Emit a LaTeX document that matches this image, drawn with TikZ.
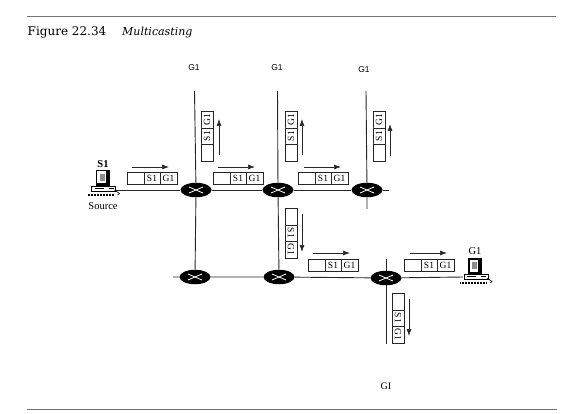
\documentclass[tikz,border=0pt]{standalone}
\usepackage{fontspec}
\setmainfont{Liberation Serif}
\newfontfamily\capfont{DejaVu Serif}
\newfontfamily\gsans{Liberation Sans}
\usetikzlibrary{arrows.meta,shapes.geometric}
\tikzset{
  x=1pt,y=-1pt,
  rule/.style={draw=black!55,line width=0.9pt},
  linkline/.style={draw=black!85,line width=0.9pt},
  router/.style={ellipse,fill=black,minimum width=31pt,minimum height=14.5pt,inner sep=0pt},
  flow/.style={draw=black!85,line width=0.7pt,-{Latex[length=7pt,width=5pt]}},
  cell/.style={font=\fontsize{9.5}{10}\selectfont,inner sep=0pt},
  lab/.style={inner sep=0pt},
  pktbox/.style={draw=black!85,line width=0.6pt,fill=white},
  hpacket/.pic={
    \draw[pktbox] (0,0) rectangle (50,12);
    \draw[pktbox] (17,0) -- (17,12) (33,0) -- (33,12);
    \node[cell] (s) at (25,6) {S1};
    \node[cell] (g) at (41.5,6) {G1};
  },
  uppacket/.pic={
    \draw[pktbox] (0,0) rectangle (12,50);
    \draw[pktbox] (0,17) -- (12,17) (0,33) -- (12,33);
    \node[cell,rotate=90] (g) at (6,8.5) {G1};
    \node[cell,rotate=90] (s) at (6,25) {S1};
  },
  downpacket/.pic={
    \draw[pktbox] (0,0) rectangle (12,50);
    \draw[pktbox] (0,17) -- (12,17) (0,33) -- (12,33);
    \node[cell,rotate=-90] (s) at (6,25) {S1};
    \node[cell,rotate=-90] (g) at (6,41.5) {G1};
  },
  computer/.pic={
    \fill[black] (-7,0) rectangle (7,16);
    \fill[white] (-5.5,1.5) rectangle (3,13.5);
    \fill[black!45] (-3,4) rectangle (2,11);
    \draw[black,line width=0.6pt,fill=white] (-11,16) rectangle (13,21.5);
    \draw[black,line width=1pt] (-8,18.5) -- (1,18.5) (6,18.5) -- (11,18.5);
    \draw[black,line width=2pt,dash pattern=on 1pt off .5pt] (-15,25) -- (12,25);
    \draw[black,line width=.6pt] (12,20) -- (17,23.5) -- (15,25);
  }
}
\begin{document}
\begin{tikzpicture}
\useasboundingbox (0,0) rectangle (575,414);
\coordinate (ruleTL) at (27,16); \coordinate (ruleTR) at (556,16);
\coordinate (ruleBL) at (27,409); \coordinate (ruleBR) at (557,409);
\draw[rule] (ruleTL) -- (ruleTR);
\draw[rule] (ruleBL) -- (ruleBR);
\node[lab,anchor=base west] (figno) at (27.5,36) {\capfont\fontsize{12}{14}\selectfont Figure 22.34};
\node[lab,anchor=base west] (figname) at (122,36) {\capfont\fontsize{11}{13}\selectfont\itshape Multicasting};

% free ends
\coordinate (t1) at (194.5,91); \coordinate (t2) at (277.5,91); \coordinate (t3) at (366,91);
\coordinate (b3) at (367,209); \coordinate (e3) at (389,190);
\coordinate (w4) at (173,277); \coordinate (t6) at (386,259); \coordinate (b6) at (386,344);

\node[router] (r1) at (196,190) {};
\node[router] (r2) at (278,190) {};
\node[router] (r3) at (367,190) {};
\node[router] (r4) at (195,277) {};
\node[router] (r5) at (279,277) {};
\node[router] (r6) at (386,278) {};

\pic (src) at (102.5,170) {computer};
\pic (dst) at (475,258) {computer};
\coordinate (srcport) at (116,190);
\coordinate (dstport) at (463,277);

\draw[linkline] (srcport) -- (r1) -- (r2) -- (r3) -- (e3);
\draw[linkline] (w4) -- (r4) -- (r5) -- (r6) -- (dstport);
\draw[linkline] (t1) -- (r1) -- (r4);
\draw[linkline] (t2) -- (r2) -- (r5);
\draw[linkline] (t3) -- (r3) -- (b3);
\draw[linkline] (t6) -- (r6) -- (b6);
\foreach \r in {r1,r2,r3,r4,r5,r6}{
  \draw[white,line width=0.8pt] ([shift={(-7,-3)}]\r.center) -- ([shift={(7,3)}]\r.center)
     ([shift={(-7,3)}]\r.center) -- ([shift={(7,-3)}]\r.center);
}

\pic (p1) at (127,172) {hpacket};
\pic (p2) at (213,172) {hpacket};
\pic (p3) at (298,172) {hpacket};
\pic (p4) at (308,259) {hpacket};
\pic (p5) at (404,259) {hpacket};
\pic (u1) at (201,111) {uppacket};
\pic (u2) at (285,111) {uppacket};
\pic (u3) at (373,111) {uppacket};
\pic (d1) at (285,208) {downpacket};
\pic (d2) at (392,293) {downpacket};

\foreach \n/\xa/\xb/\yy in {a/132/169/167,b/218/255/167,c/304/341/167,d/313/350/253,e/410/447/253}{
  \coordinate (h\n s) at (\xa,\yy); \coordinate (h\n e) at (\xb,\yy);
  \draw[flow] (h\n s) -- (h\n e);
}
\foreach \n/\xx/\ya/\yb in {a/219/155/119,b/302/155/119,c/390/156/124,d/302/214/252,e/409/299/336}{
  \coordinate (v\n s) at (\xx,\ya); \coordinate (v\n e) at (\xx,\yb);
  \draw[flow] (v\n s) -- (v\n e);
}

\node[lab] (g1a) at (194,68) {\gsans\fontsize{8.5}{10}\selectfont G1};
\node[lab] (g1b) at (277,68) {\gsans\fontsize{8.5}{10}\selectfont G1};
\node[lab] (g1c) at (364,70) {\gsans\fontsize{8.5}{10}\selectfont G1};
\node[lab] (s1) at (103,164) {\fontsize{10.5}{11}\selectfont\bfseries S1};
\node[lab] (srcl) at (103,206.5) {\fontsize{10.5}{11}\selectfont Source};
\node[lab] (g1d) at (475,251) {\fontsize{10.5}{11}\selectfont G1};
\node[lab] (g1e) at (386,386) {\fontsize{10}{11}\selectfont GI};
\end{tikzpicture}
\end{document}
